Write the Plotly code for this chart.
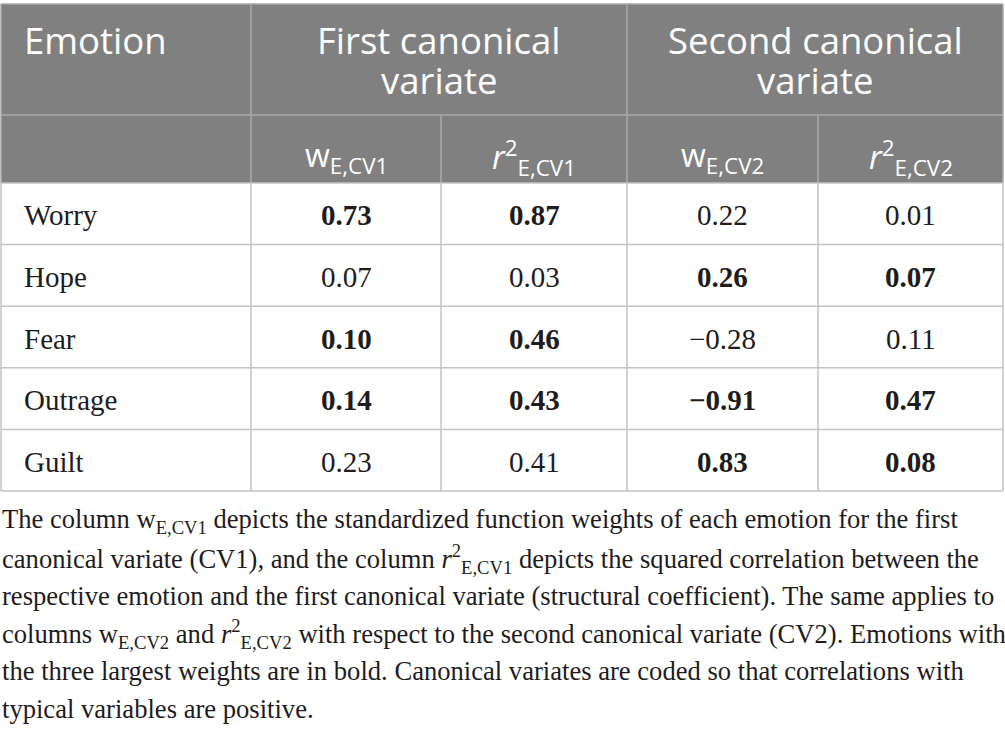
import plotly.graph_objects as go

# ---- data ----
emotions = ["Worry", "Hope", "Fear", "Outrage", "Guilt"]
w_cv1 = [0.73, 0.07, 0.10, 0.14, 0.23]
r2_cv1 = [0.87, 0.03, 0.46, 0.43, 0.41]
w_cv2 = [0.22, 0.26, -0.28, -0.91, 0.83]
r2_cv2 = [0.01, 0.07, 0.11, 0.47, 0.08]
bold_cv1 = [True, False, True, True, False]
bold_cv2 = [False, True, False, True, True]

group_headers = ["Emotion", "First canonical\nvariate", "Second canonical\nvariate"]
sub_headers = ["", "w<sub>E,CV1</sub>", "<i>r</i><sup>2</sup><sub>E,CV1</sub>",
               "w<sub>E,CV2</sub>", "<i>r</i><sup>2</sup><sub>E,CV2</sub>"]
caption_lines = [
    "The column w<sub>E,CV1</sub> depicts the standardized function weights of each emotion for the first",
    "canonical variate (CV1), and the column <i>r</i><sup>2</sup><sub>E,CV1</sub> depicts the squared correlation between the",
    "respective emotion and the first canonical variate (structural coefficient). The same applies to",
    "columns w<sub>E,CV2</sub> and <i>r</i><sup>2</sup><sub>E,CV2</sub> with respect to the second canonical variate (CV2). Emotions with",
    "the three largest weights are in bold. Canonical variates are coded so that correlations with",
    "typical variables are positive.",
]

# ---- layout geometry (styles) ----
W, H = 1005, 731
col_edges = [1, 251, 441, 627, 818, 1003]
head1_top, head1_bot = 4, 115
head2_bot = 183
row_h = 61.6
header_fill = "#7f807f"
header_line = "#a9aaa9"
grid_line = "#c3c3c3"
text_dark = "#1e1c1d"
sans = "Open Sans"
serif = "Liberation Serif"

fig = go.Figure()
shapes = []
ann = []

# header background
shapes.append(dict(type="rect", x0=col_edges[0], x1=col_edges[-1],
                   y0=head1_top, y1=head2_bot, fillcolor=header_fill, line_width=0, layer="below"))

# header lines
hl = dict(color=header_line, width=1.5)
shapes.append(dict(type="line", x0=col_edges[0], x1=col_edges[-1], y0=head1_top, y1=head1_top, line=hl))
shapes.append(dict(type="line", x0=col_edges[0], x1=col_edges[-1], y0=head1_bot, y1=head1_bot, line=hl))
for xe in [col_edges[0], col_edges[1], col_edges[3], col_edges[5]]:
    shapes.append(dict(type="line", x0=xe, x1=xe, y0=head1_top, y1=head2_bot, line=hl))
for xe in [col_edges[2], col_edges[4]]:
    shapes.append(dict(type="line", x0=xe, x1=xe, y0=head1_bot, y1=head2_bot, line=hl))

# body grid
n = len(emotions)
body_bot = head2_bot + n * row_h
gl = dict(color=grid_line, width=1.5)
for i in range(n + 1):
    y = head2_bot + i * row_h
    shapes.append(dict(type="line", x0=col_edges[0], x1=col_edges[-1], y0=y, y1=y, line=gl))
for xe in col_edges:
    shapes.append(dict(type="line", x0=xe, x1=xe, y0=head2_bot, y1=body_bot, line=gl))

# header text
hfont = dict(family=sans, size=36.5, color="white")
ann.append(dict(x=22, y=39.5, text=group_headers[0], xanchor="left", yanchor="middle",
                showarrow=False, font=hfont))
for gi, (a, b) in enumerate([(1, 3), (3, 5)]):
    cx = (col_edges[a] + col_edges[b]) / 2
    for li, line in enumerate(group_headers[gi + 1].split("\n")):
        ann.append(dict(x=cx, y=39.5 + li * 40, text=line, xanchor="center", yanchor="middle",
                        showarrow=False, font=hfont))
sfont = dict(family=sans, size=32, color="white")
for ci in range(1, 5):
    cx = (col_edges[ci] + col_edges[ci + 1]) / 2
    ann.append(dict(x=cx, y=157, text=sub_headers[ci], xanchor="center", yanchor="middle",
                    showarrow=False, font=sfont))

# body text
def fmt(v, b):
    s = f"{abs(v):.2f}"
    if v < 0:
        s = "\u2212" + s
    return f"<b>{s}</b>" if b else s

bfont = dict(family=serif, size=29, color=text_dark)
cols = [(w_cv1, bold_cv1), (r2_cv1, bold_cv1), (w_cv2, bold_cv2), (r2_cv2, bold_cv2)]
for i, emo in enumerate(emotions):
    cy = head2_bot + (i + 0.5) * row_h + 1.5
    ann.append(dict(x=22, y=cy, text=emo, xanchor="left", yanchor="middle",
                    showarrow=False, font=bfont))
    for ci, (vals, bolds) in enumerate(cols):
        cx = (col_edges[ci + 1] + col_edges[ci + 2]) / 2
        ann.append(dict(x=cx, y=cy, text=fmt(vals[i], bolds[i]), xanchor="center",
                        yanchor="middle", showarrow=False, font=bfont))

# caption
cfont = dict(family=serif, size=26.6, color=text_dark)
for li, line in enumerate(caption_lines):
    ann.append(dict(x=0, y=521 + li * 37.6, text=line, xanchor="left", yanchor="middle",
                    showarrow=False, font=cfont))

for s in shapes:
    s["xref"] = "x"
    s["yref"] = "y"
for a in ann:
    a["xref"] = "x"
    a["yref"] = "y"

fig.update_layout(
    width=W, height=H,
    margin=dict(l=0, r=0, t=0, b=0),
    paper_bgcolor="white", plot_bgcolor="white",
    xaxis=dict(range=[0, W], visible=False, fixedrange=True),
    yaxis=dict(range=[H, 0], visible=False, fixedrange=True),
    shapes=shapes, annotations=ann, showlegend=False,
)
fig.write_html("out.html", config={"displayModeBar": False},
               post_script="document.body.style.margin='0px';document.body.style.overflow='hidden';")
